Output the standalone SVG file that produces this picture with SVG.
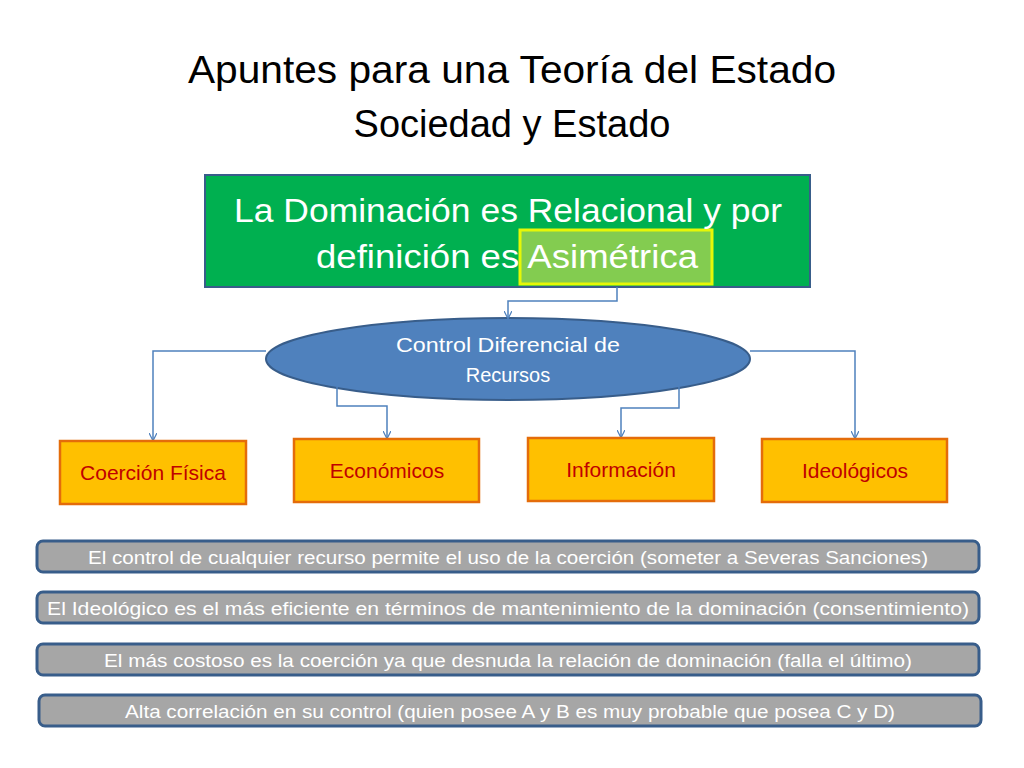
<svg xmlns="http://www.w3.org/2000/svg" width="1024" height="768" viewBox="0 0 1024 768">
<defs>
<marker id="ar" viewBox="0 0 10 10" refX="9" refY="5" markerWidth="8" markerHeight="8" orient="auto" markerUnits="userSpaceOnUse"><path d="M0,0 L10,5 L0,10" fill="none" stroke="#4f81bd" stroke-width="1.5"/></marker>
</defs>
<style>
text{font-family:"Liberation Sans",Arial,sans-serif}
.t{font-size:38px;fill:#000}
.box{fill:#ffc000;stroke:#e46c0a;stroke-width:2.5}
.bt{font-size:21px;fill:#c00000}
.bar{fill:#a6a6a6;stroke:#385d8a;stroke-width:3}
.bart{font-size:17.5px;fill:#fff}
.c{fill:none;stroke:#4f81bd;stroke-width:1.5;marker-end:url(#ar)}
</style>
<rect width="1024" height="768" fill="#fff"/>
<text class="t" x="512" y="83" text-anchor="middle" textLength="648" lengthAdjust="spacingAndGlyphs">Apuntes para una Teoría del Estado</text>
<text class="t" x="512" y="137" text-anchor="middle">Sociedad y Estado</text>
<g id="main">
<rect x="205" y="175" width="605" height="112" fill="#00b050" stroke="#385d8a" stroke-width="2"/>
<rect x="520" y="230" width="192" height="54" fill="#92d050" stroke="#ffff00" stroke-width="3" opacity="0.9"/>
<text x="508" y="222" text-anchor="middle" font-size="33" fill="#fff" textLength="548" lengthAdjust="spacingAndGlyphs">La Dominación es Relacional y por</text>
<text x="507" y="268" text-anchor="middle" font-size="33" fill="#fff" textLength="382" lengthAdjust="spacingAndGlyphs">definición es Asimétrica</text>
</g>
<g id="ellipse">
<ellipse cx="508" cy="359" rx="242" ry="41" fill="#4f81bd" stroke="#385d8a" stroke-width="2"/>
<text x="508" y="352" text-anchor="middle" font-size="20" fill="#fff" textLength="224" lengthAdjust="spacingAndGlyphs">Control Diferencial de</text>
<text x="508" y="382" text-anchor="middle" font-size="20" fill="#fff">Recursos</text>
</g>
<g id="connectors">
<path class="c" d="M617,287 V301 H508 V318"/>
<path class="c" d="M266,351 H153 V440"/>
<path class="c" d="M337,387 V406 H387 V438"/>
<path class="c" d="M679,387 V408 H621 V437"/>
<path class="c" d="M750,351 H855 V438"/>
</g>
<g id="n1"><rect class="box" x="60" y="441" width="186" height="63"/><text class="bt" x="153" y="480" text-anchor="middle">Coerción Física</text></g>
<g id="n2"><rect class="box" x="294" y="439" width="185" height="63"/><text class="bt" x="387" y="478" text-anchor="middle">Económicos</text></g>
<g id="n3"><rect class="box" x="528" y="438" width="186" height="63"/><text class="bt" x="621" y="477" text-anchor="middle">Información</text></g>
<g id="n4"><rect class="box" x="762" y="439" width="185" height="63"/><text class="bt" x="855" y="478" text-anchor="middle">Ideológicos</text></g>
<g id="b1"><rect class="bar" x="37" y="541" width="942" height="31" rx="6"/><text class="bart" x="508" y="564" text-anchor="middle" textLength="840" lengthAdjust="spacingAndGlyphs">El control de cualquier recurso permite el uso de la coerción (someter a Severas Sanciones)</text></g>
<g id="b2"><rect class="bar" x="37" y="592" width="942" height="31" rx="6"/><text class="bart" x="508" y="615" text-anchor="middle" textLength="922" lengthAdjust="spacingAndGlyphs">El Ideológico es el más eficiente en términos de mantenimiento de la dominación (consentimiento)</text></g>
<g id="b3"><rect class="bar" x="37" y="644" width="942" height="31" rx="6"/><text class="bart" x="508" y="667" text-anchor="middle" textLength="808" lengthAdjust="spacingAndGlyphs">El más costoso es la coerción ya que desnuda la relación  de dominación (falla el último)</text></g>
<g id="b4"><rect class="bar" x="39" y="695" width="942" height="31" rx="6"/><text class="bart" x="510" y="718" text-anchor="middle" textLength="770" lengthAdjust="spacingAndGlyphs">Alta correlación en su control (quien posee A y B es muy probable que posea C y D)</text></g>
</svg>
